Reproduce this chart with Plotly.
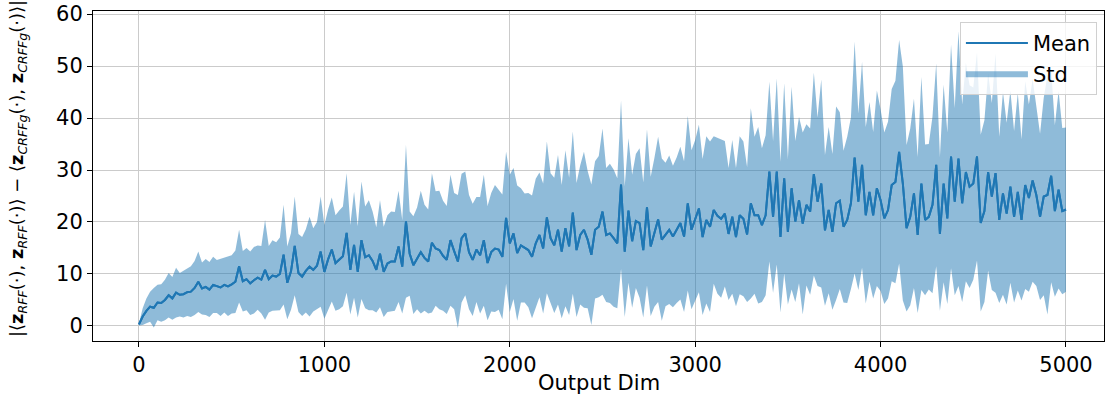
import plotly.graph_objects as go

# Output dimension grid (every 20)
output_dim = list(range(0, 5001, 20))

mean_vals = [
    # 0 - 480
    0.3, 1.8, 2.9, 3.7, 3.5, 4.5, 4.4, 5.0, 5.9, 5.3, 6.4, 6.0, 6.1, 6.5, 6.6, 7.3, 8.5, 7.2, 7.5, 7.0, 7.9, 7.6, 7.4, 7.9, 7.6,
    # 500 - 980
    8.0, 8.5, 11.5, 8.6, 9.0, 8.2, 8.8, 9.3, 8.9, 10.8, 9.0, 9.7, 9.5, 10.0, 13.7, 8.3, 10.5, 15.4, 10.2, 9.5, 10.6, 11.4, 10.8, 11.6, 14.3,
    # 1000 - 1480
    10.4, 12.8, 14.7, 12.1, 12.7, 13.4, 17.9, 10.8, 15.6, 10.4, 16.5, 13.2, 13.6, 12.5, 10.8, 13.9, 10.4, 12.0, 12.4, 12.4, 15.3, 11.4, 20.1, 13.9, 11.7,
    # 1500 - 1980
    13.0, 14.2, 13.1, 12.4, 16.0, 14.9, 14.6, 13.5, 12.7, 16.5, 14.4, 12.4, 16.9, 17.8, 14.2, 12.7, 14.7, 13.6, 16.5, 12.1, 14.2, 14.9, 14.7, 13.3, 20.8,
    # 2000 - 2480
    15.9, 17.8, 14.0, 15.5, 15.0, 14.6, 13.3, 15.9, 17.5, 14.9, 20.9, 16.9, 15.5, 18.5, 14.3, 18.8, 15.3, 21.8, 14.6, 17.5, 18.5, 16.6, 13.7, 18.5, 19.1,
    # 2500 - 2980
    22.0, 17.5, 17.8, 16.9, 15.9, 27.2, 14.3, 22.2, 16.3, 20.2, 19.8, 14.6, 22.8, 15.3, 18.0, 20.5, 16.6, 17.6, 18.5, 17.2, 18.4, 19.8, 17.2, 23.6, 18.5,
    # 3000 - 3480
    20.4, 22.6, 17.1, 20.4, 19.1, 22.3, 21.2, 20.6, 21.6, 17.7, 21.0, 17.1, 21.3, 20.6, 17.6, 23.6, 21.3, 21.3, 19.4, 21.3, 29.7, 21.0, 29.7, 17.1, 28.4,
    # 3500 - 3980
    18.1, 26.5, 20.1, 24.2, 19.7, 23.3, 22.0, 29.2, 23.9, 27.4, 18.4, 22.3, 18.1, 23.6, 24.1, 19.1, 20.4, 23.6, 32.4, 23.9, 31.0, 21.3, 25.8, 21.3, 26.5,
    # 4000 - 4480
    24.2, 20.7, 22.3, 27.1, 27.7, 33.5, 27.4, 18.8, 21.0, 25.5, 17.5, 27.4, 20.4, 21.0, 23.3, 31.0, 17.7, 27.4, 20.7, 32.6, 23.9, 32.2, 23.6, 29.6, 26.8,
    # 4500 - 5000
    27.4, 32.6, 19.8, 22.1, 29.6, 24.9, 29.4, 20.4, 25.5, 21.6, 26.8, 21.0, 25.8, 20.4, 27.1, 24.6, 28.0, 25.2, 21.0, 24.9, 25.2, 28.9, 22.1, 26.2, 22.1, 22.4,
]

std_vals = [
    # 0 - 480
    0.2, 1.6, 2.4, 2.9, 3.8, 3.4, 3.6, 3.9, 4.3, 4.1, 4.8, 4.2, 4.5, 4.6, 4.9, 5.2, 5.8, 5.0, 5.4, 5.3, 5.4, 5.1, 5.5, 5.3, 5.7,
    # 500 - 980
    5.6, 6.0, 7.0, 5.8, 6.0, 6.1, 6.4, 6.2, 6.5, 9.6, 6.4, 6.8, 6.6, 7.0, 9.6, 7.0, 7.4, 9.5, 7.5, 7.6, 8.0, 9.6, 8.0, 8.4, 10.6,
    # 1000 - 1480
    9.0, 9.6, 10.0, 9.2, 9.5, 9.6, 11.5, 8.6, 10.2, 8.8, 11.3, 9.8, 10.6, 9.5, 8.2, 10.3, 8.7, 9.3, 9.6, 9.5, 10.7, 9.0, 14.7, 8.1, 9.4,
    # 1500 - 1980
    9.8, 11.8, 10.2, 10.0, 13.4, 11.0, 11.4, 10.6, 10.4, 12.6, 11.2, 12.8, 12.4, 11.9, 11.0, 10.8, 10.1, 11.2, 12.6, 11.0, 11.4, 12.2, 11.6, 12.0, 12.7,
    # 2000 - 2480
    13.2, 12.6, 13.0, 11.0, 10.5, 11.0, 11.8, 12.4, 12.0, 12.5, 14.6, 12.5, 13.0, 14.4, 12.8, 15.0, 13.2, 15.6, 12.9, 13.4, 15.0, 13.2, 13.5, 13.2, 13.6,
    # 2500 - 2980
    16.0, 12.9, 13.4, 13.2, 12.5, 16.2, 12.6, 13.9, 12.8, 12.9, 14.4, 13.0, 15.0, 13.4, 14.3, 15.9, 15.6, 13.8, 14.3, 13.6, 14.0, 14.7, 14.5, 16.8, 15.3,
    # 3000 - 3480
    15.4, 16.1, 15.0, 16.1, 16.4, 14.2, 15.0, 15.2, 14.0, 12.7, 14.8, 13.3, 15.2, 14.9, 13.0, 18.3, 15.1, 17.0, 14.8, 15.4, 17.3, 14.6, 17.9, 14.5, 18.3,
    # 3500 - 3980
    14.0, 19.5, 15.5, 16.0, 17.5, 15.5, 16.0, 19.5, 16.2, 20.0, 14.5, 16.0, 15.0, 18.6, 17.0, 14.6, 16.0, 16.5, 22.3, 17.0, 19.8, 17.0, 17.3, 16.0, 18.8,
    # 4000 - 4480
    17.5, 16.5, 17.0, 18.5, 19.5, 21.5, 22.5, 16.0, 17.0, 18.2, 15.0, 20.5, 14.5, 14.0, 17.0, 19.5, 14.8, 19.0, 16.5, 21.5, 18.0, 24.5, 19.0, 21.0, 19.5,
    # 4500 - 5000
    18.5, 20.0, 17.0, 17.5, 19.0, 18.0, 23.0, 16.0, 19.5, 17.5, 18.5, 16.5, 19.0, 15.5, 20.0, 18.0, 19.5, 17.5, 16.0, 19.0, 23.0, 20.5, 16.5, 19.0, 16.0, 15.8,
]

x_ticks = [0, 1000, 2000, 3000, 4000, 5000]
y_ticks = [0, 10, 20, 30, 40, 50, 60]

lower = [m - s for m, s in zip(mean_vals, std_vals)]
upper = [m + s for m, s in zip(mean_vals, std_vals)]

BLUE = "#1f77b4"
FONT = "DejaVu Sans"

fig = go.Figure()
fig.add_trace(go.Scatter(
    x=output_dim, y=mean_vals, mode="lines", line=dict(width=2, color=BLUE),
    name="Mean",
))
fig.add_trace(go.Scatter(
    x=output_dim, y=lower, mode="lines", line=dict(width=0, color=BLUE),
    showlegend=False, hoverinfo="skip",
))
fig.add_trace(go.Scatter(
    x=output_dim, y=upper, mode="lines", line=dict(width=0, color=BLUE),
    fill="tonexty", fillcolor="rgba(31,119,180,0.5)", name="Std",
))
# mean line redrawn on top of the band (legend entry comes from the first trace)
fig.add_trace(go.Scatter(
    x=output_dim, y=mean_vals, mode="lines", line=dict(width=2, color=BLUE),
    showlegend=False, hoverinfo="skip",
))

ytitle = ("|⟨<b>z</b><sub><i>RFF</i></sub>(·), <b>z</b><sub><i>RFF</i></sub>(·)⟩ − "
          "⟨<b>z</b><sub><i>CRFFg</i></sub>(·), <b>z</b><sub><i>CRFFg</i></sub>(·)⟩|")

axis_common = dict(
    showline=True, linecolor="black", linewidth=1, mirror=True,
    ticks="outside", ticklen=5, tickcolor="black", tickwidth=1,
    showgrid=True, gridcolor="#cbcbcb", gridwidth=1, zeroline=False,
    tickfont=dict(family=FONT, size=21, color="black"),
    automargin=False, ticklabeloverflow="allow",
)

fig.update_layout(
    width=1105, height=400,
    margin=dict(l=93, r=1, t=11, b=59),
    paper_bgcolor="white", plot_bgcolor="white",
    font=dict(family=FONT, color="black"),
    xaxis=dict(range=[-248, 5205], tickvals=x_ticks, **axis_common),
    yaxis=dict(range=[-2.9, 60.6], tickvals=y_ticks, **axis_common),
    legend=dict(
        x=0.993, y=0.967, xanchor="right", yanchor="top", traceorder="normal",
        bgcolor="rgba(255,255,255,0.8)", bordercolor="#d0d0d0", borderwidth=1,
        font=dict(family=FONT, size=21, color="black"),
        itemwidth=62, tracegroupgap=0,
    ),
    annotations=[
        dict(text="Output Dim", xref="paper", yref="paper",
             x=0.5, y=-0.127, xanchor="center", yanchor="middle",
             showarrow=False, font=dict(family=FONT, size=21, color="black")),
        dict(text=ytitle, xref="paper", yref="paper", textangle=-90,
             x=-0.0742, y=0.524, xanchor="center", yanchor="middle",
             showarrow=False, font=dict(family=FONT, size=18, color="black")),
    ],
)

# remove the default page margin so the figure fills the window exactly
fig.write_html(
    "out.html",
    config={"displayModeBar": False},
    post_script="document.body.style.margin='0px';",
)
